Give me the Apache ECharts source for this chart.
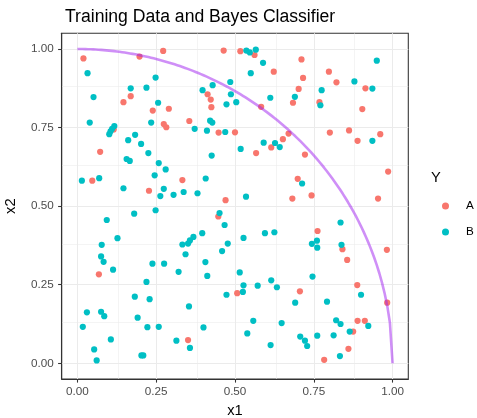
<!DOCTYPE html>
<html>
<head>
<meta charset="utf-8">
<script src="https://cdn.jsdelivr.net/npm/echarts@6/dist/echarts.min.js"></script>
<style>
html, body { margin: 0; padding: 0; background: #ffffff; }
#chart { width: 477px; height: 418px; }
</style>
</head>
<body>
<div id="chart"></div>
<script>
// Training observations, class A: [x1, x2]
const classA = [
  [0.272,0.994],[0.019,0.970],[0.197,0.976],[0.146,0.831],[0.169,0.850],
  [0.239,0.804],[0.290,0.810],[0.274,0.761],[0.282,0.751],[0.115,0.744],
  [0.072,0.673],[0.464,0.995],[0.517,0.993],[0.562,0.981],[0.623,0.928],
  [0.413,0.856],[0.423,0.839],[0.425,0.815],[0.583,0.816],[0.684,0.829],
  [0.702,0.873],[0.355,0.771],[0.448,0.734],[0.500,0.735],[0.670,0.731],
  [0.652,0.713],[0.615,0.687],[0.567,0.669],[0.711,0.967],[0.798,0.928],
  [0.716,0.908],[0.822,0.894],[0.914,0.875],[0.768,0.831],[0.904,0.809],
  [0.801,0.734],[0.862,0.741],[0.889,0.708],[0.961,0.729],[0.722,0.664],
  [0.986,0.610],[0.699,0.587],[0.682,0.524],[0.743,0.534],[0.954,0.524],
  [0.762,0.421],[0.841,0.363],[0.982,0.361],[0.856,0.329],[0.333,0.583],
  [0.470,0.519],[0.447,0.467],[0.047,0.581],[0.227,0.549],[0.068,0.283],
  [0.507,0.223],[0.351,0.074],[0.706,0.229],[0.888,0.249],[0.983,0.193],
  [0.889,0.135],[0.912,0.135],[0.875,0.101],[0.860,0.046],[0.783,0.011]
];

// Training observations, class B: [x1, x2]
const classB = [
  [0.032,0.923],[0.248,0.909],[0.169,0.875],[0.219,0.877],[0.051,0.847],
  [0.256,0.829],[0.039,0.766],[0.234,0.766],[0.117,0.755],[0.110,0.746],
  [0.105,0.738],[0.101,0.729],[0.161,0.710],[0.183,0.727],[0.202,0.698],
  [0.225,0.669],
  [0.536,0.995],[0.547,0.989],[0.566,0.998],[0.589,0.956],[0.550,0.923],
  [0.485,0.895],[0.429,0.885],[0.397,0.869],[0.487,0.856],[0.612,0.845],
  [0.504,0.831],[0.473,0.824],[0.690,0.848],[0.421,0.772],[0.428,0.766],
  [0.372,0.746],[0.411,0.740],[0.469,0.736],[0.627,0.701],[0.591,0.702],
  [0.642,0.688],[0.518,0.682],[0.426,0.661],
  [0.950,0.963],[0.879,0.897],[0.775,0.869],[0.936,0.874],[0.771,0.821],
  [0.936,0.708],
  [0.713,0.572],[0.835,0.448],[0.760,0.390],[0.744,0.380],[0.761,0.368],
  [0.838,0.377],
  [0.407,0.588],[0.337,0.545],[0.381,0.541],[0.535,0.530],[0.451,0.478],
  [0.467,0.440],[0.396,0.414],[0.368,0.402],[0.357,0.391],[0.351,0.381],
  [0.333,0.378],[0.477,0.381],[0.527,0.399],[0.595,0.414],[0.625,0.417],
  [0.459,0.357],[0.343,0.347],[0.406,0.322],
  [0.156,0.650],[0.166,0.644],[0.258,0.637],[0.280,0.617],[0.245,0.598],
  [0.014,0.581],[0.069,0.589],[0.146,0.557],[0.274,0.555],[0.263,0.532],
  [0.305,0.536],[0.180,0.476],[0.248,0.487],[0.093,0.456],[0.127,0.398],
  [0.077,0.377],[0.075,0.340],[0.083,0.323],[0.238,0.317],[0.275,0.317],
  [0.113,0.298],[0.321,0.291],[0.219,0.259],[0.182,0.212],[0.229,0.204],
  [0.030,0.162],[0.075,0.164],[0.085,0.150],[0.191,0.145],[0.017,0.116],
  [0.222,0.115],[0.258,0.116],[0.106,0.076],[0.314,0.072],[0.053,0.044],
  [0.203,0.025],[0.209,0.025],[0.061,0.009],
  [0.412,0.278],[0.515,0.289],[0.527,0.248],[0.572,0.247],[0.615,0.264],
  [0.633,0.242],[0.473,0.218],[0.525,0.227],[0.691,0.193],[0.354,0.181],
  [0.558,0.135],[0.648,0.128],[0.400,0.114],[0.539,0.095],[0.357,0.049],
  [0.613,0.058],
  [0.746,0.276],[0.900,0.218],[0.792,0.196],[0.821,0.137],[0.835,0.125],
  [0.923,0.119],[0.864,0.101],[0.707,0.085],[0.722,0.072],[0.729,0.055],
  [0.761,0.088],[0.813,0.089],[0.833,0.023]
];

const tickValues = [0, 0.25, 0.5, 0.75, 1];
const minorValues = [0.125, 0.375, 0.625, 0.875];
const legendTitle = 'Y';
const classNames = ['A', 'B'];

// Bayes decision boundary: x1^2 + x2^2 = r^2, first quadrant
const boundaryRadius = 1;
const boundarySteps = 120;
function bayesBoundary(r, steps) {
  const pts = [];
  for (let i = 0; i <= steps; i++) {
    const x = r * i / steps;
    pts.push([x, Math.sqrt(Math.max(0, r * r - x * x))]);
  }
  return pts;
}

const FONT = 'Liberation Sans, Arial, sans-serif';
const chart = echarts.init(document.getElementById('chart'), null, { renderer: 'canvas' });

const gridLine = (axis, v, w) => ({ [axis]: v, lineStyle: { width: w } });
const gridMarks = [
  ...minorValues.map(v => gridLine('xAxis', v, 0.55)),
  ...minorValues.map(v => gridLine('yAxis', v, 0.55)),
  ...tickValues.map(v => gridLine('xAxis', v, 1.07)),
  ...tickValues.map(v => gridLine('yAxis', v, 1.07))
];

const axisCommon = {
  type: 'value',
  min: -0.05,
  max: 1.05,
  splitLine: { show: false },
  axisLine: { show: true, onZero: false, lineStyle: { color: '#333333', width: 1.07 } },
  axisTick: { show: true, customValues: tickValues, length: 3.6, lineStyle: { color: '#333333', width: 1.07 } },
  axisLabel: {
    customValues: tickValues,
    formatter: v => v.toFixed(2),
    color: '#4d4d4d',
    fontSize: 11.7,
    fontFamily: FONT
  },
  nameLocation: 'middle',
  nameTextStyle: { color: '#000000', fontSize: 14.7, fontFamily: FONT }
};

chart.setOption({
  animation: false,
  backgroundColor: '#ffffff',
  title: {
    text: 'Training Data and Bayes Classifier',
    left: 60,
    top: 3,
    textStyle: { color: '#000000', fontSize: 17.6, fontWeight: 'normal', fontFamily: FONT }
  },
  grid: {
    left: 61.7, top: 33.3, width: 346.6, height: 345.7,
    containLabel: false, outerBoundsMode: 'none',
    show: true, borderColor: '#333333', borderWidth: 1.07, backgroundColor: '#ffffff'
  },
  xAxis: Object.assign({}, axisCommon, {
    name: 'x1', nameGap: 24,
    axisLabel: Object.assign({}, axisCommon.axisLabel, { margin: 7 })
  }),
  yAxis: Object.assign({}, axisCommon, {
    name: 'x2', nameGap: 43,
    axisLabel: Object.assign({}, axisCommon.axisLabel, { margin: 8 })
  }),
  legend: {
    data: classNames,
    orient: 'vertical',
    left: 437, top: 194,
    itemWidth: 7, itemHeight: 7, itemGap: 12,
    icon: 'circle',
    textStyle: { color: '#000000', fontSize: 11.7, lineHeight: 14, padding: [0, 0, 0, 12], fontFamily: FONT }
  },
  graphic: [{
    type: 'text', left: 431, top: 170,
    style: { text: legendTitle, fill: '#000000', font: '14.7px "Liberation Sans", Arial, sans-serif' }
  }],
  series: [
    {
      name: 'panel-grid', type: 'line', data: [], z: 1, silent: true,
      markLine: {
        z: 0, silent: true, symbol: 'none', animation: false,
        label: { show: false },
        lineStyle: { color: '#ebebeb', type: 'solid' },
        emphasis: { disabled: true },
        data: gridMarks
      }
    },
    {
      name: classNames[0], type: 'scatter', data: classA, z: 3,
      symbol: 'circle', symbolSize: 6.2,
      itemStyle: { color: '#F8766D', opacity: 1 }
    },
    {
      name: classNames[1], type: 'scatter', data: classB, z: 3,
      symbol: 'circle', symbolSize: 6.2,
      itemStyle: { color: '#00BFC4', opacity: 1 }
    },
    {
      name: 'boundary', type: 'line', z: 4, silent: true,
      data: bayesBoundary(boundaryRadius, boundarySteps),
      showSymbol: false, symbol: 'none', smooth: false,
      lineStyle: { color: '#A020F0', width: 2.6, opacity: 0.5 }
    }
  ]
});
</script>
</body>
</html>
